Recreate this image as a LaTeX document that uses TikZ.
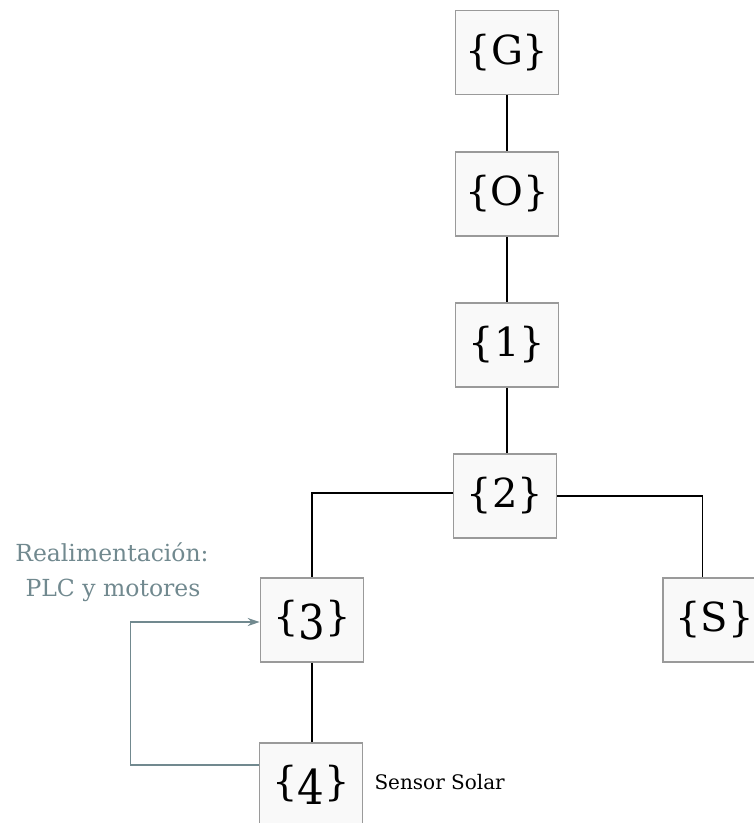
\documentclass[tikz,border=0pt]{standalone}
\usepackage{fontspec}
\usepackage{graphicx}
\setmainfont{DejaVu Serif}
% descending figure: taller digit set below the baseline
\newcommand{\lowdigit}[1]{\raisebox{-9pt}{\scalebox{1.05}[1.2]{#1}}}
\usetikzlibrary{arrows.meta}
\definecolor{boxline}{HTML}{9A9A9A}
\definecolor{boxfill}{HTML}{F9F9F9}
\definecolor{fbcol}{HTML}{71898F}
\begin{document}
\begin{tikzpicture}[x=1pt,y=-1pt,
  stage/.style={draw=boxline, line width=1.6pt, fill=boxfill,
    minimum width=103pt, minimum height=84pt, inner sep=0pt,
    font=\fontsize{40}{48}\selectfont},
  link/.style={draw=black, line width=1.3pt},
  fb/.style={draw=fbcol, line width=1.5pt},
  note/.style={text=fbcol, font=\fontsize{23.5}{28}\selectfont},
  side/.style={text=black, font=\fontsize{20}{24}\selectfont}]
\useasboundingbox (0,0) rectangle (754,823);

% stages of the chain
\node[stage] (nG) at (507,52.5) {\{G\}};
\node[stage] (nO) at (507,194) {\{O\}};
\node[stage] (n1) at (507,345) {\{1\}};
\node[stage] (n2) at (505,496) {\{2\}};
\node[stage] (n3) at (312,620) {\{\lowdigit{3}\}};
\node[stage] (nS) at (714.5,620) {\{S\}};
\node[stage] (n4) at (311,785) {\{\lowdigit{4}\}};

% tree links
\draw[link] (nG) -- (nO);
\draw[link] (nO) -- (n1);
\draw[link] (n1.south) -- (n1.south |- n2.north);
\draw[link] ([yshift=3pt]n2.west) -| (n3.north);
\draw[link] (n2.east) -| ([xshift=40pt]nS.north west);
\draw[link] (n3.south) -- (n3.south |- n4.north);

% feedback loop
\draw[fb, -{Stealth[length=12pt,width=8pt]}]
  ([yshift=20pt]n4.west) -- ++(-128,0) |- ([yshift=-2pt]n3.west);

% labels
\node[note] (lbA) at (112,552) {Realimentación:};
\node[note] (lbB) at (113,590) {PLC y motores};
\node[side, anchor=west] (lbS) at (371,782) {Sensor Solar};
\end{tikzpicture}
\end{document}
